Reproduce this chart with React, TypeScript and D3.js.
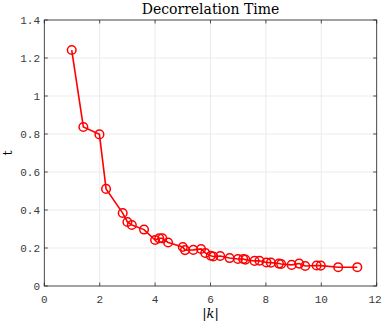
import React from "react";
import * as d3 from "d3";

// |k| and decorrelation time
const kValues = [
  0.99, 1.41, 1.99, 2.23, 2.83, 3.0, 3.16, 3.6, 4.0, 4.15, 4.26, 4.47, 5.0,
  5.08, 5.38, 5.66, 5.81, 6.01, 6.1, 6.35, 6.69, 6.99, 7.18, 7.26, 7.59, 7.77,
  8.02, 8.18, 8.47, 8.55, 8.93, 9.2, 9.42, 9.83, 9.98, 10.61, 11.3,
];
const tValues = [
  1.242, 0.837, 0.798, 0.511, 0.384, 0.337, 0.321, 0.297, 0.242, 0.251, 0.251,
  0.229, 0.205, 0.189, 0.19, 0.195, 0.174, 0.159, 0.155, 0.158, 0.147, 0.142,
  0.142, 0.139, 0.132, 0.133, 0.124, 0.123, 0.118, 0.116, 0.111, 0.118, 0.105,
  0.108, 0.107, 0.099, 0.099,
];
const xTicks = [0, 2, 4, 6, 8, 10, 12];
const yTicks = [0, 0.2, 0.4, 0.6, 0.8, 1, 1.2, 1.4];

const width = 382;
const height = 324;
const left = 44.3;
const right = 376.7;
const top = 20;
const bottom = 286;

const App = () => {
  const x = d3.scaleLinear().domain([0, 12]).range([left, right]);
  const y = d3.scaleLinear().domain([0, 1.4]).range([bottom, top]);

  const points = kValues.map((k, i) => [k, tValues[i]] as [number, number]);
  const line = d3
    .line<[number, number]>()
    .x((d) => x(d[0]))
    .y((d) => y(d[1]));

  const axisColor = "#262626";
  const labelColor = "#3a3a3a";
  const tickFont = "'Liberation Mono', 'DejaVu Sans Mono', monospace";
  const serif = "'DejaVu Serif', serif";

  return (
    <svg
      width={width}
      height={height}
      style={{ position: "absolute", left: 0, top: 0, background: "#fff" }}
    >
      {/* grid */}
      {xTicks.map((t) => (
        <line key={"gx" + t} x1={x(t)} x2={x(t)} y1={top} y2={bottom} stroke="#ebebeb" strokeWidth={1} />
      ))}
      {yTicks.map((t) => (
        <line key={"gy" + t} x1={left} x2={right} y1={y(t)} y2={y(t)} stroke="#ebebeb" strokeWidth={1} />
      ))}

      {/* box */}
      <rect x={left} y={top} width={right - left} height={bottom - top} fill="none" stroke={axisColor} strokeWidth={0.8} />

      {/* ticks on all sides */}
      {xTicks.map((t) => (
        <g key={"tx" + t}>
          <line x1={x(t)} x2={x(t)} y1={bottom} y2={bottom - 3.5} stroke={axisColor} strokeWidth={0.8} />
          <line x1={x(t)} x2={x(t)} y1={top} y2={top + 3.5} stroke={axisColor} strokeWidth={0.8} />
          <text x={Math.min(x(t), 375)} y={303} textAnchor="middle" fontFamily={tickFont} fontSize={11} fill={labelColor}>
            {t}
          </text>
        </g>
      ))}
      {yTicks.map((t) => (
        <g key={"ty" + t}>
          <line x1={left} x2={left + 3.5} y1={y(t)} y2={y(t)} stroke={axisColor} strokeWidth={0.8} />
          <line x1={right} x2={right - 3.5} y1={y(t)} y2={y(t)} stroke={axisColor} strokeWidth={0.8} />
          <text x={40} y={y(t) + 4} textAnchor="end" fontFamily={tickFont} fontSize={11} fill={labelColor}>
            {d3.format("~g")(t)}
          </text>
        </g>
      ))}

      {/* series */}
      <path d={line(points) || ""} fill="none" stroke="#ff0000" strokeWidth={1.6} />
      {points.map((p, i) => (
        <circle key={i} cx={x(p[0])} cy={y(p[1])} r={4.3} fill="none" stroke="#ff0000" strokeWidth={1.5} />
      ))}

      {/* labels */}
      <text x={(left + right) / 2} y={14} textAnchor="middle" fontFamily={serif} fontSize={14} fill="#000">
        Decorrelation Time
      </text>
      <text x={(left + right) / 2} y={318} textAnchor="middle" fontFamily={serif} fontSize={13} fill="#000">
        |<tspan fontStyle="italic">k</tspan>|
      </text>
      <text
        transform={`translate(12, ${(top + bottom) / 2}) rotate(-90)`}
        textAnchor="middle"
        fontFamily={serif}
        fontSize={13}
        fill="#000"
      >
        t
      </text>
    </svg>
  );
};

export default App;
